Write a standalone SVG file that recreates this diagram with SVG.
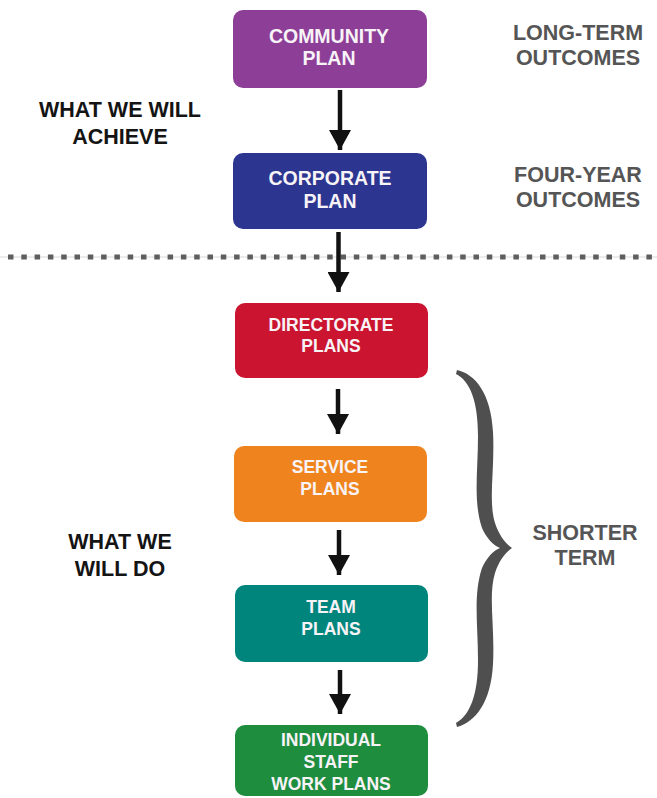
<svg xmlns="http://www.w3.org/2000/svg" width="657" height="798" viewBox="0 0 657 798">
  <defs>
    <style>
      .box { stroke: none; }
      .box-text { font-family: "Liberation Sans", Arial, sans-serif; font-weight: bold; fill: #f7f3f7; text-anchor: middle; }
      .big { font-size: 19.5px; }
      .small { font-size: 17.5px; }
      .side { font-family: "Liberation Sans", Arial, sans-serif; font-weight: bold; font-size: 21.5px; text-anchor: middle; }
      .dark { fill: #141414; }
      .grey { fill: #555555; }
      .arrow { stroke: #111111; stroke-width: 4.5; fill: none; marker-end: url(#head); }
    </style>
    <marker id="head" viewBox="0 0 20 22" markerWidth="20" markerHeight="22" markerUnits="userSpaceOnUse" refX="20" refY="11" orient="auto">
      <path d="M0,0 L20,11 L0,22 Z" fill="#111111"/>
    </marker>
  </defs>

  <rect width="657" height="798" fill="#ffffff"/>

  <!-- separator between the strategic and operational levels -->
  <g id="separator">
    <line x1="0" y1="257" x2="657" y2="257" stroke="#d8d8d8" stroke-width="1"/>
    <line x1="8" y1="257" x2="657" y2="257" stroke="#5e5e5e" stroke-width="5" stroke-dasharray="5.5 7.8"/>
  </g>

  <!-- nodes -->
  <g id="community-plan">
    <rect class="box" x="233" y="10" width="194" height="78" rx="10" fill="#8d3f97"/>
    <text class="box-text big" x="329" y="43">COMMUNITY</text>
    <text class="box-text big" x="329" y="65">PLAN</text>
  </g>
  <g id="corporate-plan">
    <rect class="box" x="233" y="153" width="194" height="76" rx="10" fill="#2c3590"/>
    <text class="box-text big" x="330" y="185">CORPORATE</text>
    <text class="box-text big" x="330" y="208">PLAN</text>
  </g>
  <g id="directorate-plans">
    <rect class="box" x="235" y="303" width="193" height="75" rx="10" fill="#ca1430"/>
    <text class="box-text small" x="331" y="331">DIRECTORATE</text>
    <text class="box-text small" x="331" y="352">PLANS</text>
  </g>
  <g id="service-plans">
    <rect class="box" x="234" y="446" width="193" height="76" rx="10" fill="#ef841e"/>
    <text class="box-text small" x="330" y="473">SERVICE</text>
    <text class="box-text small" x="330" y="495">PLANS</text>
  </g>
  <g id="team-plans">
    <rect class="box" x="235" y="585" width="193" height="77" rx="10" fill="#00857c"/>
    <text class="box-text small" x="331" y="613">TEAM</text>
    <text class="box-text small" x="331" y="635">PLANS</text>
  </g>
  <g id="individual-plans">
    <rect class="box" x="235" y="725" width="193" height="71" rx="10" fill="#1e8d3e"/>
    <text class="box-text small" x="331" y="746">INDIVIDUAL</text>
    <text class="box-text small" x="331" y="768">STAFF</text>
    <text class="box-text small" x="331" y="790">WORK PLANS</text>
  </g>

  <!-- connectors -->
  <g id="connectors">
    <line class="arrow" x1="340" y1="90" x2="340" y2="150"/>
    <line class="arrow" x1="338.5" y1="232" x2="338.5" y2="292"/>
    <line class="arrow" x1="338" y1="389" x2="338" y2="434"/>
    <line class="arrow" x1="339" y1="530" x2="339" y2="575"/>
    <line class="arrow" x1="340" y1="670" x2="340" y2="714"/>
  </g>

  <!-- curly brace grouping the shorter-term plans -->
  <g id="brace">
    <path fill="#4f4f50" d="M457,370
      C475,374 491,393 493,432
      C495,470 488,500 495,523
      C499,535 505,543 512,548
      C505,553 499,561 495,573
      C488,596 495,626 493,664
      C491,703 475,722 457,727
      L456,723
      C470,715 478,695 478,660
      C478,625 473,595 482,568
      C487,557 493,551 500,548
      C493,545 487,539 482,528
      C473,501 478,471 478,436
      C478,401 470,381 456,374 Z"/>
  </g>

  <!-- labels -->
  <g id="label-achieve">
    <text class="side dark" x="120" y="117">WHAT WE WILL</text>
    <text class="side dark" x="120" y="144">ACHIEVE</text>
  </g>
  <g id="label-do">
    <text class="side dark" x="120" y="549">WHAT WE</text>
    <text class="side dark" x="120" y="576">WILL DO</text>
  </g>
  <g id="label-long-term">
    <text class="side grey" x="578" y="40">LONG-TERM</text>
    <text class="side grey" x="578" y="65">OUTCOMES</text>
  </g>
  <g id="label-four-year">
    <text class="side grey" x="578" y="182">FOUR-YEAR</text>
    <text class="side grey" x="578" y="207">OUTCOMES</text>
  </g>
  <g id="label-shorter-term">
    <text class="side grey" x="585" y="540">SHORTER</text>
    <text class="side grey" x="585" y="565">TERM</text>
  </g>
</svg>
